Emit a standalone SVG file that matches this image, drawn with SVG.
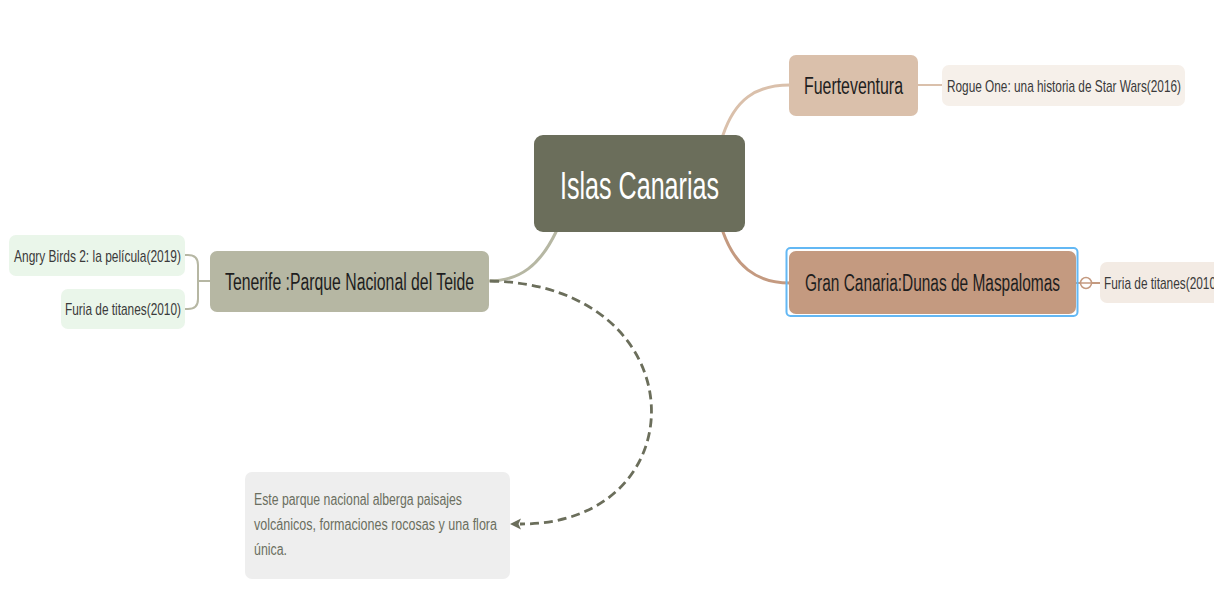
<svg xmlns="http://www.w3.org/2000/svg" width="1214" height="592" viewBox="0 0 1214 592">
<defs>
<style>
.t{font-family:"Liberation Sans","Noto Sans",sans-serif;fill:#1e1e1e}
.c{fill:none;stroke-width:3;stroke-linecap:round}
</style>
</defs>
<rect width="1214" height="592" fill="#ffffff"/>
<g id="connectors">
<path class="c" stroke="#dac0ab" d="M723,135 C735,100 755,85 790,85"/>
<path class="c" stroke="#c49a80" d="M723,232 C735,265 755,283 790,283"/>
<path class="c" stroke="#b6b7a3" d="M556,232 C540,265 520,281 489,281"/>
<path fill="none" stroke="#dac0ab" stroke-width="2" d="M918,85 H942"/>
<path fill="none" stroke="#c49a80" stroke-width="2" d="M1076,283 H1100"/>
<circle cx="1086" cy="283" r="5.5" fill="#ffffff" stroke="#c49a80" stroke-width="1.5"/>
<path fill="none" stroke="#c49a80" stroke-width="1.5" d="M1081,283 H1091"/>
<path fill="none" stroke="#b6b7a3" stroke-width="2" d="M210,281 H198 M198,281 V265 Q198,255 188,255 H185 M198,281 V299 Q198,309 188,309 H185"/>
<path fill="none" stroke="#6b6e5b" stroke-width="2.8" stroke-dasharray="9,5" d="M490,281 C700,285 700,525 520,524"/>
<polygon points="510,524 521,518.5 518.5,524 521,529.5" fill="#6b6e5b"/>
</g>
<g id="central">
<rect x="534" y="135" width="211" height="97" rx="9" fill="#6b6e5b"/>
<text x="639.5" y="199" text-anchor="middle" font-size="38" textLength="159" lengthAdjust="spacingAndGlyphs" class="t" style="fill:#ffffff">Islas Canarias</text>
</g>
<g id="fuerteventura">
<rect x="789" y="55" width="129" height="61" rx="7" fill="#dac0ab"/>
<text x="853.5" y="94" text-anchor="middle" font-size="23" textLength="99" lengthAdjust="spacingAndGlyphs" class="t">Fuerteventura</text>
</g>
<g id="rogue">
<rect x="942" y="65" width="243" height="41" rx="7" fill="#f6f0ea"/>
<text x="1064" y="92" text-anchor="middle" font-size="17" textLength="234" lengthAdjust="spacingAndGlyphs" class="t" style="fill:#3a3a3a">Rogue One: una historia de Star Wars(2016)</text>
</g>
<g id="grancanaria">
<rect x="786.5" y="248" width="291" height="68" rx="4" fill="none" stroke="#63b8f4" stroke-width="2"/>
<rect x="789" y="251" width="287" height="63" rx="7" fill="#c49a80"/>
<text x="932.5" y="291" text-anchor="middle" font-size="23" textLength="255" lengthAdjust="spacingAndGlyphs" class="t">Gran Canaria:Dunas de Maspalomas</text>
</g>
<g id="furia-right">
<rect x="1100" y="262" width="130" height="41" rx="7" fill="#f3ebe4"/>
<text x="1104" y="289" font-size="17" textLength="116" lengthAdjust="spacingAndGlyphs" class="t" style="fill:#3a3a3a">Furia de titanes(2010)</text>
</g>
<g id="tenerife">
<rect x="210" y="251" width="279" height="61" rx="7" fill="#b6b7a3"/>
<text x="349.5" y="290" text-anchor="middle" font-size="23" textLength="249" lengthAdjust="spacingAndGlyphs" class="t">Tenerife :Parque Nacional del Teide</text>
</g>
<g id="angrybirds">
<rect x="9" y="235" width="176" height="41" rx="7" fill="#eaf6ea"/>
<text x="97.5" y="262" text-anchor="middle" font-size="17" textLength="167" lengthAdjust="spacingAndGlyphs" class="t" style="fill:#3a3a3a">Angry Birds 2: la película(2019)</text>
</g>
<g id="furia-left">
<rect x="61" y="289" width="124" height="40" rx="7" fill="#eaf6ea"/>
<text x="123" y="315" text-anchor="middle" font-size="17" textLength="116" lengthAdjust="spacingAndGlyphs" class="t" style="fill:#3a3a3a">Furia de titanes(2010)</text>
</g>
<g id="note">
<rect x="245" y="472" width="265" height="107" rx="7" fill="#eeeeee"/>
<text font-size="16" class="t" style="fill:#6b6e60">
<tspan x="254" y="505" textLength="208" lengthAdjust="spacingAndGlyphs">Este parque nacional alberga paisajes</tspan>
<tspan x="254" y="530" textLength="243" lengthAdjust="spacingAndGlyphs">volcánicos, formaciones rocosas y una flora</tspan>
<tspan x="254" y="555" textLength="33" lengthAdjust="spacingAndGlyphs">única.</tspan>
</text>
</g>
</svg>
